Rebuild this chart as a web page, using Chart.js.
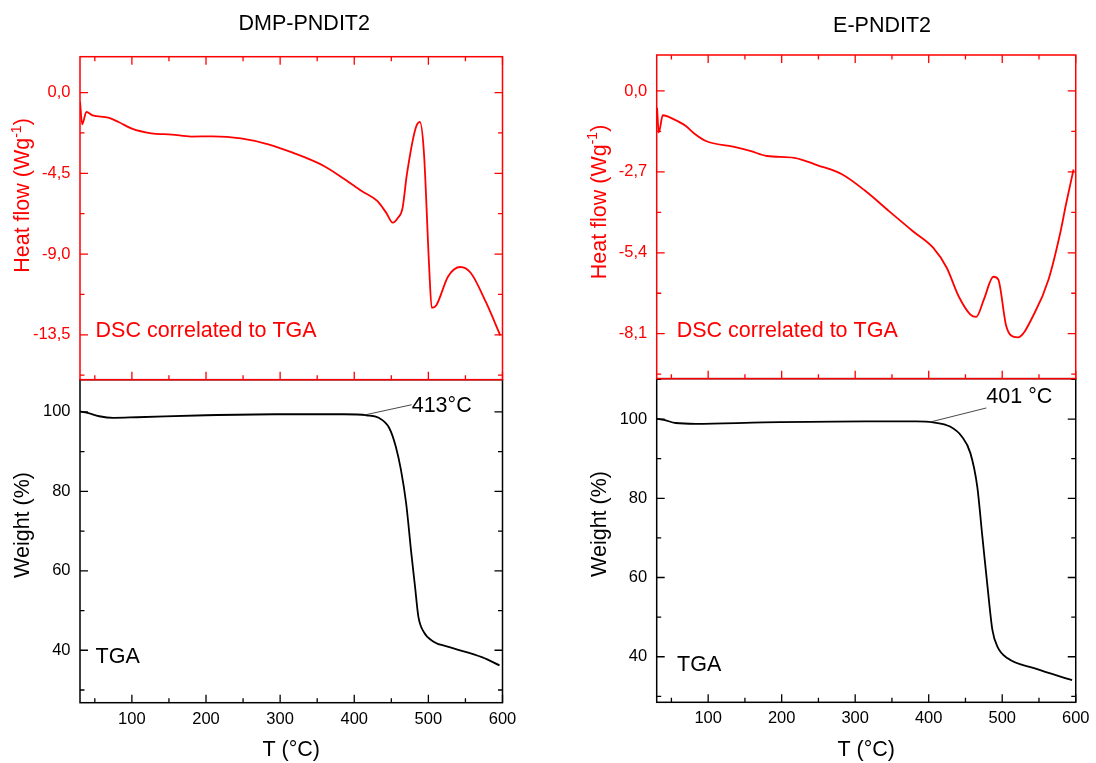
<!DOCTYPE html>
<html>
<head>
<meta charset="utf-8">
<title>DSC / TGA</title>
<script src="https://cdn.jsdelivr.net/npm/chart.js@4.4.1/dist/chart.umd.min.js"></script>
<style>
  body { margin: 0; background: #fff; }
  #wrap { position: relative; width: 1096px; height: 763px; overflow: hidden; }
  canvas { position: absolute; top: 0; }
  #dmp { left: 0; }
  #e { left: 560px; }
</style>
</head>
<body>
<div id="wrap">
  <canvas id="dmp" width="548" height="763"></canvas>
  <canvas id="e" width="536" height="763"></canvas>
</div>
<script>
// shared temperature axis
const tempTicks = [100, 200, 300, 400, 500, 600];
const tempMinor = [50, 150, 250, 350, 450, 550];
const weightTicks = [40, 60, 80, 100];

// DMP-PNDIT2
const dmpDscTemp = [30, 33, 38.6, 47, 68, 82, 100, 126, 154, 180, 209, 247, 284, 317, 359, 387, 410, 431, 443, 452, 459, 465, 471, 482.6, 488.6, 494, 501, 504.5, 510.5, 526.8, 543, 557, 578, 597];
const dmpHeatFlow = [-0.5, -1.77, -1.08, -1.27, -1.4, -1.64, -2.01, -2.27, -2.34, -2.45, -2.44, -2.55, -2.88, -3.35, -4.09, -4.83, -5.49, -6.04, -6.69, -7.25, -6.97, -6.47, -4.56, -2.01, -1.64, -3.35, -9.67, -11.99, -11.86, -10.23, -9.72, -10.04, -11.71, -13.53];
const dmpTgaTemp = [30, 40, 56, 75, 107, 200, 293, 386, 416.7, 433, 447, 456, 463, 470, 477, 482, 486.5, 493.5, 507, 526, 573, 596];
const dmpWeight = [100.15, 99.75, 98.9, 98.5, 98.65, 99.15, 99.4, 99.4, 99.15, 98.5, 96.0, 91.3, 85.4, 77.0, 64.4, 56.0, 48.45, 44.7, 42.15, 40.9, 38.2, 36.2];
const dmpFlowTicks = [0, -4.5, -9, -13.5];

// E-PNDIT2
const eDscTemp = [30.5, 32.8, 38.3, 53.5, 69.6, 81, 97, 134, 157, 180, 217, 249, 282, 314, 346, 378.5, 406, 424.5, 440.7, 456.7, 464.6, 475, 488, 494.6, 505, 512, 521, 544, 563, 579, 586.7, 597];
const eHeatFlow = [-0.56, -1.39, -0.81, -0.95, -1.17, -1.42, -1.67, -1.86, -2.0, -2.17, -2.23, -2.48, -2.78, -3.34, -4.01, -4.68, -5.23, -5.9, -6.85, -7.46, -7.54, -6.96, -6.2, -6.29, -7.8, -8.16, -8.22, -7.41, -6.29, -4.73, -3.79, -2.62];
const eTgaTemp = [30.5, 39.7, 55.8, 83.4, 175.6, 314, 383, 406, 429, 445, 456.7, 466, 473, 480, 486.7, 493.6, 507.4, 544.4, 595];
const eWeight = [100.1, 99.8, 99.0, 98.8, 99.15, 99.4, 99.4, 99.15, 98.1, 95.6, 91.4, 83.0, 70.3, 57.7, 46.7, 42.5, 39.6, 37.05, 34.1];
const eFlowTicks = [0, -2.7, -5.4, -8.1];

const RED = '#ff0000';
const INK = '#000000';
const FONT = '"Liberation Sans", Arial, sans-serif';
const BIG = 21.5;
const TICK = 16.5;
Chart.defaults.font.family = FONT;

function interp(xs, ys, t) {
  for (let i = 1; i < xs.length; i++) {
    if (t <= xs[i]) {
      const f = (t - xs[i - 1]) / (xs[i] - xs[i - 1]);
      return ys[i - 1] + f * (ys[i] - ys[i - 1]);
    }
  }
  return ys[ys.length - 1];
}

// half-step ticks between the labelled ones
function minorsOf(majors, min, max) {
  const half = Math.abs(majors[1] - majors[0]) / 2;
  const out = [];
  majors.forEach(v => [v - half, v + half].forEach(m => {
    if (m > min && m < max && !out.some(o => Math.abs(o - m) < 1e-9)) out.push(m);
  }));
  return out;
}

function text(ctx, str, x, y, color, align) {
  ctx.fillStyle = color;
  ctx.font = `${BIG}px ${FONT}`;
  ctx.textAlign = align || 'left';
  ctx.textBaseline = 'middle';
  ctx.fillText(str, x, y);
}

// boxed frame with inward ticks on every side
function frame(ctx, xs, ys, area, color, majors, topTicks) {
  const L = area.left, R = area.right, T = ys.top, B = ys.bottom;
  ctx.strokeStyle = color;
  ctx.lineWidth = 1.5;
  ctx.strokeRect(L, T, R - L, B - T);
  ctx.beginPath();
  const minors = minorsOf(majors, ys.min, ys.max);
  [[majors, 8], [minors, 4.5]].forEach(([vals, len]) => vals.forEach(v => {
    const p = ys.getPixelForValue(v);
    ctx.moveTo(L, p); ctx.lineTo(L + len, p);
    ctx.moveTo(R, p); ctx.lineTo(R - len, p);
  }));
  [[tempTicks, 8], [tempMinor, 4.5]].forEach(([vals, len]) => vals.forEach(v => {
    const p = xs.getPixelForValue(v);
    ctx.moveTo(p, B); ctx.lineTo(p, B - len);
    if (topTicks) { ctx.moveTo(p, T); ctx.lineTo(p, T + len); }
  }));
  ctx.lineWidth = 1.3;
  ctx.stroke();
}

function heatFlowTitle(ctx, cx, cy) {
  const big = `${BIG}px ${FONT}`, small = `14px ${FONT}`;
  const a = 'Heat flow (Wg';
  ctx.save();
  ctx.translate(cx, cy);
  ctx.rotate(-Math.PI / 2);
  ctx.fillStyle = RED;
  ctx.textBaseline = 'middle';
  ctx.textAlign = 'left';
  ctx.font = big;
  const wa = ctx.measureText(a).width, wc = ctx.measureText(')').width;
  ctx.font = small;
  const wb = ctx.measureText('-1').width;
  let x = -(wa + wb + wc) / 2;
  ctx.font = big; ctx.fillText(a, x, 0); x += wa;
  ctx.font = small; ctx.fillText('-1', x, -6); x += wb;
  ctx.font = big; ctx.fillText(')', x, 0);
  ctx.restore();
}

function weightTitle(ctx, cx, cy) {
  ctx.save();
  ctx.translate(cx, cy);
  ctx.rotate(-Math.PI / 2);
  text(ctx, 'Weight (%)', 0, 0, INK, 'center');
  ctx.restore();
}

function decor(cfg) {
  return {
    id: 'decor',
    afterDatasetsDraw(chart) {
      const {ctx, chartArea: area} = chart;
      const xs = chart.scales.x, yD = chart.scales.yDsc, yT = chart.scales.yTga;
      ctx.save();
      frame(ctx, xs, yT, area, INK, weightTicks, false);
      frame(ctx, xs, yD, area, RED, cfg.flowTicks, true);

      text(ctx, cfg.name, (area.left + area.right) / 2 + cfg.nameShift, cfg.nameY, INK, 'center');
      text(ctx, 'DSC correlated to TGA', xs.getPixelForValue(cfg.dscNote[0]), yD.getPixelForValue(cfg.dscNote[1]), RED);
      text(ctx, 'TGA', xs.getPixelForValue(cfg.tgaNote[0]), yT.getPixelForValue(cfg.tgaNote[1]), INK);

      // onset temperature with leader line to the curve
      const on = cfg.onset;
      const x0 = xs.getPixelForValue(on.t);
      const y0 = yT.getPixelForValue(interp(cfg.tgaTemp, cfg.weight, on.t));
      const x1 = xs.getPixelForValue(on.lineTo[0]);
      const y1 = yT.getPixelForValue(on.lineTo[1]);
      ctx.beginPath();
      ctx.moveTo(x0, y0);
      ctx.lineTo(x1, y1);
      ctx.strokeStyle = '#333';
      ctx.lineWidth = 0.9;
      ctx.stroke();
      text(ctx, on.t + on.unit, x1, yT.getPixelForValue(on.textAt), INK);

      heatFlowTitle(ctx, cfg.titleX, cfg.dscTitleY);
      weightTitle(ctx, cfg.titleX, cfg.tgaTitleY);
      ctx.restore();
    }
  };
}

function makePanel(id, cfg) {
  const pts = (xs, ys) => xs.map((t, i) => ({x: t, y: ys[i]}));
  const noGrid = {display: false, drawTicks: false, tickLength: 0};
  const yAxis = (min, max, ticks, color, fmt) => ({
    type: 'linear', position: 'left', stack: 'col', stackWeight: 1,
    min: min, max: max,
    grid: noGrid, border: {display: false},
    afterBuildTicks: s => { s.ticks = ticks.map(v => ({value: v})); },
    afterFit: s => { s.width = cfg.axisWidth; },
    ticks: {color: color, font: {size: TICK}, padding: 9.5, callback: fmt}
  });
  return new Chart(document.getElementById(id), {
    type: 'line',
    data: {
      datasets: [
        {data: pts(cfg.dscTemp, cfg.flow), yAxisID: 'yDsc', borderColor: RED},
        {data: pts(cfg.tgaTemp, cfg.weight), yAxisID: 'yTga', borderColor: INK}
      ]
    },
    options: {
      responsive: false,
      animation: false,
      events: [],
      layout: {padding: {top: cfg.padTop, right: cfg.padRight, left: 0, bottom: 0}},
      plugins: {legend: {display: false}, tooltip: {enabled: false}},
      elements: {
        point: {radius: 0},
        line: {borderWidth: 1.8, cubicInterpolationMode: 'monotone', fill: false}
      },
      scales: {
        x: {
          type: 'linear', min: 30, max: 600,
          grid: noGrid, border: {display: false},
          afterBuildTicks: s => { s.ticks = tempTicks.map(v => ({value: v})); },
          afterFit: s => { s.height = cfg.axisHeight; },
          ticks: {color: INK, font: {size: TICK}, padding: 6.5, maxRotation: 0, autoSkip: false},
          title: {display: true, text: 'T (°C)', color: INK, font: {size: BIG}, padding: {top: 0, bottom: 0}}
        },
        yTga: yAxis(cfg.tgaMin, cfg.tgaMax, weightTicks, INK, v => String(v)),
        yDsc: yAxis(cfg.dscMin, cfg.dscMax, cfg.flowTicks, RED, v => v.toFixed(1).replace('.', ','))
      }
    },
    plugins: [decor(cfg)]
  });
}

makePanel('dmp', {
  name: 'DMP-PNDIT2', nameShift: 13, nameY: 24.5,
  dscTemp: dmpDscTemp, flow: dmpHeatFlow, tgaTemp: dmpTgaTemp, weight: dmpWeight,
  flowTicks: dmpFlowTicks,
  dscMin: -16, dscMax: 2, tgaMin: 26.8, tgaMax: 108.1,
  axisWidth: 80, padRight: 45.5, padTop: 56.7, axisHeight: 60.3,
  titleX: 23.4, dscTitleY: 195.5, tgaTitleY: 525,
  dscNote: [51, -13.3], tgaNote: [51, 38.2],
  onset: {t: 413, unit: '°C', lineTo: [477.5, 101.8], textAt: 101.35}
});

makePanel('e', {
  name: 'E-PNDIT2', nameShift: 15.8, nameY: 25.8,
  dscTemp: eDscTemp, flow: eHeatFlow, tgaTemp: eTgaTemp, weight: eWeight,
  flowTicks: eFlowTicks,
  dscMin: -9.6, dscMax: 1.2, tgaMin: 28.5, tgaMax: 110.2,
  axisWidth: 96.7, padRight: 15.3, padTop: 55, axisHeight: 60.7,
  titleX: 39.6, dscTitleY: 202, tgaTitleY: 524,
  dscNote: [57.2, -8.02], tgaNote: [57.7, 38.0],
  onset: {t: 401, unit: ' °C', lineTo: [478.4, 102.8], textAt: 105.5}
});
</script>
</body>
</html>
